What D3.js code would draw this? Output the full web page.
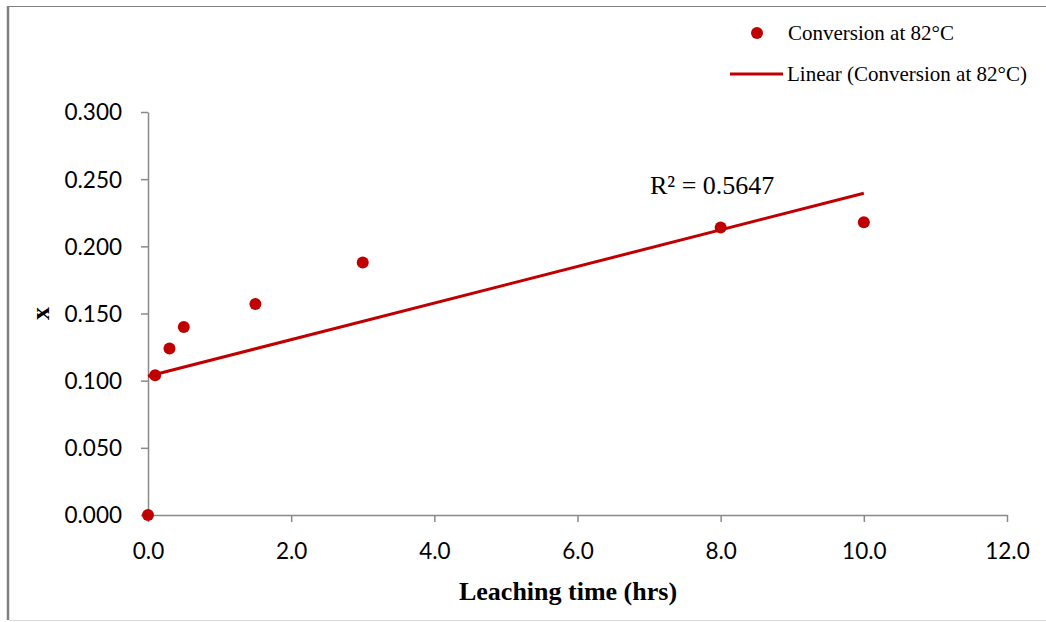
<!DOCTYPE html>
<html>
<head>
<meta charset="utf-8">
<script src="https://cdn.jsdelivr.net/npm/d3@7"></script>
<style>
  body { margin: 0; background: #fff; }
  svg { display: block; }
</style>
</head>
<body>
<svg id="chart" width="1046" height="622"></svg>
<script>
// leaching time (hrs) and conversion
const times = [0, 0.1, 0.3, 0.5, 1.5, 3, 8, 10]
const conversion = [0, 0.104, 0.124, 0.140, 0.157, 0.188, 0.214, 0.218]
const xTicks = [0, 2, 4, 6, 8, 10, 12]
const yTicks = [0, 0.05, 0.1, 0.15, 0.2, 0.25, 0.3]
const seriesName = 'Conversion at 82°C'

const red = '#c00000'
const axisGrey = '#898989'
const sans = 'Lato, "Open Sans", sans-serif'
const serif = '"Liberation Serif", "Times New Roman", serif'

const svg = d3.select('#chart')

// outer frame (left, top, bottom edges like the source image)
svg.append('line').attr('x1', 8).attr('x2', 8).attr('y1', 6).attr('y2', 620)
    .attr('stroke', '#808080').attr('stroke-width', 2.5)
svg.append('line').attr('x1', 7).attr('x2', 1046).attr('y1', 6.5).attr('y2', 6.5)
    .attr('stroke', '#808080').attr('stroke-width', 1)
svg.append('line').attr('x1', 9).attr('x2', 1046).attr('y1', 620.5).attr('y2', 620.5)
    .attr('stroke', '#d9d9d9').attr('stroke-width', 1)

const x = d3.scaleLinear().domain([0, 12]).range([148, 1007])
const y = d3.scaleLinear().domain([0, 0.3]).range([515, 112])

// axes
const xAxis = svg.append('g')
    .attr('transform', `translate(0,${y(0)})`)
    .call(d3.axisBottom(x).tickValues(xTicks).tickFormat(d3.format('.1f')).tickSizeOuter(0).tickSizeInner(7))
const yAxis = svg.append('g')
    .attr('transform', `translate(${x(0)},0)`)
    .call(d3.axisLeft(y).tickValues(yTicks).tickFormat(d3.format('.3f')).tickSizeOuter(0).tickSizeInner(7))

for (const ax of [xAxis, yAxis]) {
    ax.select('.domain').attr('stroke', axisGrey).attr('stroke-width', 1.5)
    ax.selectAll('.tick line').attr('stroke', axisGrey).attr('stroke-width', 1.5)
    ax.selectAll('.tick text')
        .attr('fill', '#000')
        .attr('font-family', sans)
        .attr('font-size', '22.5px')
}
xAxis.selectAll('.tick text').attr('dy', 0).attr('y', 44)
yAxis.selectAll('.tick text').attr('x', -26).attr('dy', '0.35em')

// axis titles
svg.append('text')
    .attr('x', 568).attr('y', 600)
    .attr('text-anchor', 'middle')
    .attr('font-family', serif)
    .attr('font-weight', 'bold')
    .attr('font-size', '26px')
    .text('Leaching time (hrs)')

svg.append('text')
    .attr('transform', `translate(49,${(y(0) + y(0.3)) / 2}) rotate(-90)`)
    .attr('text-anchor', 'middle')
    .attr('font-family', serif)
    .attr('font-weight', 'bold')
    .attr('font-size', '26px')
    .text('x')

// linear least-squares trend line
const n = times.length
const mx = d3.mean(times)
const my = d3.mean(conversion)
let sxy = 0, sxx = 0, syy = 0
for (let i = 0; i < n; i++) {
    sxy += (times[i] - mx) * (conversion[i] - my)
    sxx += (times[i] - mx) ** 2
    syy += (conversion[i] - my) ** 2
}
const slope = sxy / sxx
const intercept = my - slope * mx
const r2 = (sxy * sxy) / (sxx * syy)

const xExtent = d3.extent(times)
svg.append('line')
    .attr('x1', x(xExtent[0])).attr('y1', y(intercept + slope * xExtent[0]))
    .attr('x2', x(xExtent[1])).attr('y2', y(intercept + slope * xExtent[1]))
    .attr('stroke', red)
    .attr('stroke-width', 3)

// points
svg.append('g')
    .selectAll('circle')
    .data(times.map((t, i) => ({ t, v: conversion[i] })))
    .enter().append('circle')
    .attr('cx', d => x(d.t))
    .attr('cy', d => y(d.v))
    .attr('r', 6)
    .attr('fill', red)

svg.append('text')
    .attr('x', 650).attr('y', 194)
    .attr('font-family', serif)
    .attr('font-size', '26px')
    .attr('fill', '#000')
    .text(`R² = ${r2.toFixed(4)}`)

// legend
const legend = svg.append('g').attr('font-family', serif).attr('font-size', '21px')
legend.append('circle').attr('cx', 757).attr('cy', 33).attr('r', 6).attr('fill', red)
legend.append('text').attr('x', 788).attr('y', 40).text(seriesName)
legend.append('line').attr('x1', 730).attr('x2', 783).attr('y1', 74).attr('y2', 74)
    .attr('stroke', red).attr('stroke-width', 3)
legend.append('text').attr('x', 787).attr('y', 81).text(`Linear (${seriesName})`)
</script>
</body>
</html>
